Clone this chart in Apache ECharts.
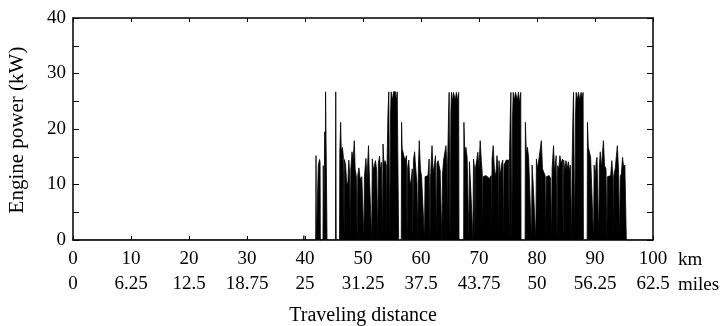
<!DOCTYPE html>
<html>
<head>
<meta charset="utf-8">
<script src="https://cdn.jsdelivr.net/npm/echarts@6/dist/echarts.min.js"></script>
<style>
html,body{margin:0;padding:0;background:#fff;}
#chart{width:726px;height:326px;}
</style>
</head>
<body>
<div id="chart"></div>
<script>
// ---- data: [distance km, engine power kW] ----
const leadIn = [
  [0,0],[39.75,0],[39.8,0.8],[39.85,0],
  [41.85,0],[41.9,15.2],[41.95,0],
  [42.25,0],[42.3,13.4],[42.45,13.4],[42.5,14.5],[42.6,14.0],[42.65,0],
  [43.1,0],[43.15,13.4],[43.25,0],
  [43.35,0],[43.4,19.5],[43.5,13.5],[43.55,26.7],[43.75,26.7],[43.8,0],
  [45.25,0],[45.3,26.7],[45.38,0]
];
const cycle1 = [
  [45.95,0],[46.0,15.8],[46.15,21.2],[46.25,16.0],[46.45,16.7],[46.6,15.2],[46.75,0],[46.8,14.5],[47.0,13.5],[47.2,9.9],[47.4,10.5],[47.55,14.4],[47.7,12.0],[47.8,0],[47.9,12.8],[48.1,15.9],[48.3,14.4],[48.5,17.9],[48.65,12.8],[48.85,11.4],[49.0,0],[49.1,11.6],[49.3,13.0],[49.5,11.0],[49.8,11.4],[50.0,11.1],[50.15,0],[50.25,11.4],[50.5,14.7],[50.7,11.2],[50.95,17.0],[51.1,11.4],[51.35,11.2],[51.5,0],[51.6,14.6],[51.8,12.6],[52.0,12.4],[52.15,14.3],[52.35,12.6],[52.55,0],[52.65,13.8],[52.85,15.1],[53.0,12.6],[53.2,14.0],[53.35,0],[53.45,17.3],[53.6,13.7],[53.8,14.3],[54.0,13.5],[54.1,0],
  [54.15,0],[54.15,13.5],[54.3,22.8],[54.45,26.7],[54.55,26.7],[54.6,0],[54.7,0],[54.75,22.7],[54.85,26.7],[55.1,25.1],[55.25,26.7],[55.6,26.7],[55.75,25.0],[55.9,26.7],[56.1,26.7],[56.15,0]
];
const cycle2 = [
  [56.6,0],[56.65,21.2],[56.75,16.5],[56.95,16.7],[57.1,14.9],[57.3,14.4],[57.5,15.2],[57.6,0],[57.7,13.1],[57.9,14.4],[58.1,9.9],[58.3,10.8],[58.5,12.8],[58.6,0],[58.7,14.4],[58.9,15.9],[59.1,12.8],[59.3,10.2],[59.45,0],[59.55,13.0],[59.7,17.9],[59.9,12.8],[60.1,11.4],[60.4,11.2],[60.6,0],[60.7,11.4],[61.0,11.1],[61.2,11.6],[61.4,14.6],[61.55,0],[61.65,11.4],[61.9,17.0],[62.1,12.0],[62.3,13.5],[62.5,15.2],[62.65,0],[62.75,13.8],[62.95,14.3],[63.1,13.5],[63.3,12.5],[63.5,12.8],[63.6,0],[63.7,11.7],[63.9,14.4],[64.1,14.1],[64.3,17.0],[64.45,13.7],[64.55,0],
  [64.6,0],[64.6,14.0],[64.75,22.7],[64.85,26.6],[64.95,26.6],[65.0,0],[65.1,0],[65.15,22.7],[65.25,26.6],[65.45,25.0],[65.6,26.6],[65.9,25.2],[66.1,26.6],[66.3,25.2],[66.5,26.6],[66.55,0]
];
const cycle3 = [
  [67.35,0],[67.4,21.2],[67.55,15.8],[67.75,16.7],[67.95,14.9],[68.2,14.9],[68.25,0],[68.35,14.1],[68.55,9.9],[68.8,10.2],[68.95,0],[69.05,14.6],[69.25,12.8],[69.3,0],[69.4,13.0],[69.6,14.3],[69.8,15.8],[70.0,12.8],[70.2,17.9],[70.4,14.3],[70.55,12.2],[70.6,0],[70.7,11.4],[70.95,11.2],[71.2,11.6],[71.5,11.4],[71.8,11.1],[72.1,11.6],[72.15,0],[72.25,14.6],[72.45,17.0],[72.65,12.8],[72.9,11.4],[73.1,15.2],[73.3,12.8],[73.35,0],[73.45,14.3],[73.65,11.4],[73.85,13.5],[74.1,14.4],[74.2,0],[74.3,13.5],[74.5,13.8],[74.7,14.4],[74.9,14.1],[75.1,14.4],[75.2,0],
  [75.25,0],[75.25,14.4],[75.4,22.7],[75.5,26.6],[75.6,26.6],[75.65,0],[75.75,0],[75.8,22.7],[75.9,26.6],[76.1,25.2],[76.3,26.6],[76.6,25.2],[76.8,26.6],[77.0,24.8],[77.2,26.6],[77.25,0]
];
const cycle4 = [
  [77.95,0],[78.0,21.2],[78.15,15.8],[78.35,16.7],[78.55,14.9],[78.8,14.9],[79.05,0],[79.15,13.5],[79.35,9.9],[79.6,10.2],[79.8,0],[79.9,14.6],[80.1,12.8],[80.3,12.6],[80.5,15.9],[80.75,17.9],[80.95,12.8],[81.15,13.1],[81.4,11.6],[81.5,0],[81.6,11.4],[81.85,11.4],[82.1,11.6],[82.35,11.1],[82.5,0],[82.6,12.8],[82.85,17.0],[83.05,12.0],[83.3,15.2],[83.45,0],[83.55,13.4],[83.75,12.8],[83.95,15.2],[84.15,13.8],[84.4,14.6],[84.5,0],[84.6,14.4],[84.8,12.4],[85.0,14.3],[85.2,12.8],[85.4,14.1],[85.6,12.4],[85.75,13.5],[85.9,13.5],[86.0,0],
  [86.05,0],[86.05,13.5],[86.2,22.7],[86.3,26.6],[86.45,26.6],[86.5,0],[86.6,0],[86.65,22.7],[86.75,26.6],[86.95,25.2],[87.15,26.6],[87.4,25.2],[87.6,26.6],[87.8,25.5],[87.95,26.6],[88.0,0]
];
const tail = [
  [88.65,0],[88.7,21.2],[88.85,16.7],[89.05,15.8],[89.25,14.9],[89.5,14.9],[89.75,0],[89.85,13.5],[90.0,10.8],[90.2,14.1],[90.35,14.9],[90.65,0],[90.75,13.1],[90.9,15.9],[91.1,13.0],[91.45,17.9],[91.65,13.4],[91.9,12.8],[92.05,0],[92.15,11.4],[92.4,11.2],[92.7,11.6],[92.9,14.3],[93.1,11.4],[93.15,0],[93.25,11.6],[93.5,13.0],[93.85,17.0],[94.05,12.8],[94.25,0],[94.35,11.4],[94.55,12.0],[94.75,14.9],[94.95,13.0],[95.15,13.5],[95.35,13.5],[95.4,0],
  [100,0]
];
const kmTicks = [0,10,20,30,40,50,60,70,80,90,100];
const milesLabels = ['0','6.25','12.5','18.75','25','31.25','37.5','43.75','50','56.25','62.5'];
const yLabeled = [0,10,20,30,40];

const powerData = [].concat(leadIn, cycle1, cycle2, cycle3, cycle4, tail);

const FONT = "'Liberation Serif', 'DejaVu Serif', serif";
const chart = echarts.init(document.getElementById('chart'), null, {renderer:'canvas'});
const axisLine = {show:true, onZero:false, lineStyle:{color:'#000', width:1.5}};
const tickIn = (len)=> ({show:true, inside:true, length:len, lineStyle:{color:'#000', width:1}});
chart.setOption({
  animation:false,
  backgroundColor:'#fff',
  grid:{left:73, right:73, top:18, bottom:86, containLabel:false, outerBoundsMode:'none'},
  xAxis:[
    {type:'value', min:0, max:100, interval:10, position:'bottom',
     axisLine:axisLine, axisTick:tickIn(4),
     axisLabel:{show:true, margin:10, color:'#000', fontFamily:FONT, fontSize:19,
       showMinLabel:true, showMaxLabel:true,
       formatter:(v)=> kmTicks.indexOf(v) >= 0 ? String(v) : ''},
     splitLine:{show:false}},
    {type:'value', min:0, max:100, interval:10, position:'bottom', offset:25,
     axisLine:{show:false, onZero:false}, axisTick:{show:false},
     axisLabel:{show:true, margin:10, color:'#000', fontFamily:FONT, fontSize:19,
       showMinLabel:true, showMaxLabel:true,
       formatter:(v)=> { const i = kmTicks.indexOf(v); return i >= 0 ? milesLabels[i] : ''; }},
     splitLine:{show:false}},
    {type:'value', min:0, max:100, interval:10, position:'top',
     axisLine:axisLine, axisTick:tickIn(4),
     axisLabel:{show:false}, splitLine:{show:false}}
  ],
  yAxis:[
    {type:'value', min:0, max:40, interval:5, position:'left',
     axisLine:axisLine, axisTick:tickIn(6),
     axisLabel:{show:true, margin:7, color:'#000', fontFamily:FONT, fontSize:19,
       showMinLabel:true, showMaxLabel:true,
       formatter:(v)=> yLabeled.indexOf(v) >= 0 ? String(v) : ''},
     splitLine:{show:false}},
    {type:'value', min:0, max:40, interval:5, position:'right',
     axisLine:axisLine, axisTick:tickIn(6),
     axisLabel:{show:false}, splitLine:{show:false}}
  ],
  graphic:[
    {type:'text', x:17, y:130, rotation:Math.PI/2,
     style:{text:'Engine power (kW)', fill:'#000', font:"21px 'Liberation Serif', serif", align:'center', verticalAlign:'middle'}},
    {type:'text', left:678, top:251, style:{text:'km', fill:'#000', font:"19px 'Liberation Serif', serif"}},
    {type:'text', left:678, top:276, style:{text:'miles', fill:'#000', font:"19px 'Liberation Serif', serif"}},
    {type:'text', left:'center', top:306, style:{text:'Traveling distance', fill:'#000', font:"20px 'Liberation Serif', serif"}}
  ],
  series:[
    {type:'line', xAxisIndex:0, yAxisIndex:0, data:powerData, showSymbol:false, silent:true,
     lineStyle:{color:'#000', width:0.8}, areaStyle:{color:'#000', opacity:1}}
  ]
});
</script>
</body>
</html>
